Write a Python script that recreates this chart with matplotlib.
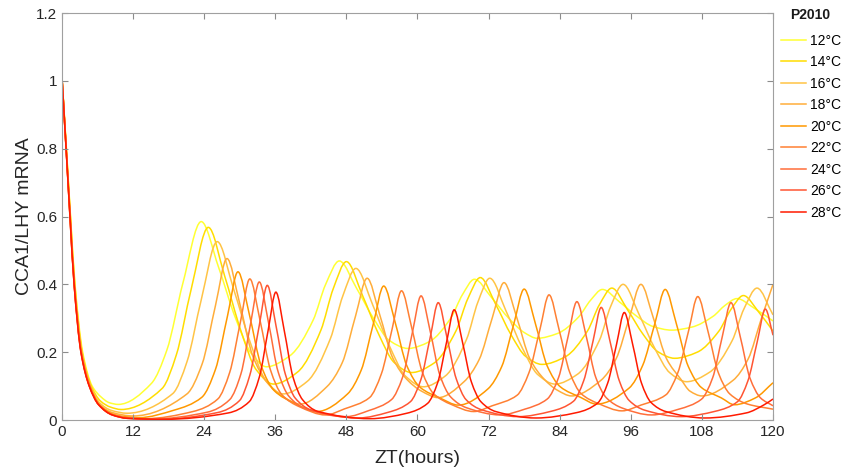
import numpy as np
import matplotlib
matplotlib.use("Agg")
import matplotlib.pyplot as plt
from matplotlib.path import Path
from matplotlib.patches import PathPatch
from matplotlib.lines import Line2D

plt.rcParams['font.family'] = ['Liberation Sans', 'DejaVu Sans']

# values: (ZT hours, CCA1/LHY mRNA)
temps = [12, 14, 16, 18, 20, 22, 24, 26, 28]
colors = ['#ffff33', '#ffdd00', '#ffc445', '#ffad3a', '#ff9900',
          '#ff8033', '#ff6e3a', '#ff5533', '#ff1a00']

c12 = [(0, 1.01), (0.75, 0.80), (1.45, 0.60), (2.2, 0.40), (3.5, 0.20), (5.1, 0.10),
       (6.6, 0.068), (8.0, 0.051), (9.5, 0.046),
       (15.1, 0.108), (17.7, 0.206), (20.4, 0.403), (23.5, 0.585),
       (26.4, 0.452), (29.3, 0.30), (32.0, 0.195), (34.5, 0.157),
       (38.5, 0.19), (42.4, 0.295), (44.5, 0.40), (46.8, 0.469),
       (49.7, 0.389), (52.6, 0.299), (55.3, 0.234), (58.4, 0.211),
       (62.0, 0.231), (65.6, 0.30), (67.6, 0.37), (69.6, 0.415),
       (72.5, 0.361), (75.4, 0.30), (78.1, 0.257), (80.2, 0.241),
       (83.6, 0.255), (87.2, 0.304), (89.2, 0.353), (91.2, 0.385),
       (94.1, 0.348), (97.0, 0.306), (99.7, 0.276), (102.9, 0.265),
       (106.3, 0.274), (109.9, 0.306), (111.9, 0.338), (113.9, 0.358),
       (116.8, 0.33), (120, 0.292)]

c14 = [(0, 1.01), (0.74, 0.80), (1.43, 0.60), (2.17, 0.40), (3.42, 0.20), (4.95, 0.10),
       (6.5, 0.056), (8.2, 0.038), (10, 0.031),
       (16.9, 0.093), (19.3, 0.192), (21.8, 0.385), (24.7, 0.568),
       (27.45, 0.425), (30.2, 0.263), (32.8, 0.148), (35.7, 0.106),
       (39.8, 0.142), (43.7, 0.265), (45.8, 0.388), (48.0, 0.467),
       (50.75, 0.366), (53.5, 0.251), (56.1, 0.169), (59.0, 0.14),
       (62.8, 0.168), (66.5, 0.263), (68.5, 0.358), (70.6, 0.42),
       (73.2, 0.341), (75.8, 0.251), (78.3, 0.187), (81.0, 0.164),
       (84.9, 0.186), (88.7, 0.263), (90.7, 0.34), (92.8, 0.389),
       (95.45, 0.325), (98.1, 0.252), (100.6, 0.201), (103.4, 0.182),
       (107.2, 0.2), (110.9, 0.263), (112.9, 0.326), (115.0, 0.367),
       (117.6, 0.318), (120, 0.262)]

c16 = [(0, 1.01), (0.73, 0.80), (1.41, 0.60), (2.14, 0.40), (3.36, 0.20), (4.85, 0.10),
       (6.4, 0.05), (8.4, 0.028), (11, 0.02),
       (18.7, 0.078), (21.1, 0.172), (23.5, 0.354), (26.2, 0.526),
       (28.95, 0.387), (31.75, 0.23), (34.4, 0.117), (37.3, 0.077),
       (41.4, 0.114), (45.3, 0.24), (47.4, 0.366), (49.6, 0.447),
       (52.45, 0.339), (55.3, 0.217), (58.0, 0.129), (61.0, 0.098),
       (64.7, 0.13), (68.3, 0.239), (70.2, 0.348), (72.2, 0.418),
       (74.95, 0.321), (77.7, 0.212), (80.3, 0.134), (83.2, 0.106),
       (87.0, 0.135), (90.7, 0.235), (92.6, 0.335), (94.7, 0.40),
       (97.4, 0.311), (100.05, 0.211), (102.6, 0.139), (105.4, 0.113),
       (109.3, 0.141), (113.1, 0.234), (115.1, 0.328), (117.3, 0.389),
       (120, 0.31)]

c18 = [(0, 1.01), (0.72, 0.80), (1.4, 0.60), (2.11, 0.40), (3.32, 0.20), (4.78, 0.10),
       (6.3, 0.047), (8.5, 0.022), (12, 0.012),
       (21.1, 0.077), (23.65, 0.165), (25.9, 0.337), (27.85, 0.476),
       (29.95, 0.347), (32.2, 0.189), (34.6, 0.111), (37.2, 0.07), (40.2, 0.047),
       (44.75, 0.099), (47.3, 0.169), (49.55, 0.307), (51.5, 0.418),
       (53.6, 0.312), (55.85, 0.182), (58.25, 0.119), (60.7, 0.085), (63.5, 0.066),
       (67.85, 0.113), (70.4, 0.178), (72.65, 0.303), (74.6, 0.405),
       (76.7, 0.305), (78.95, 0.181), (81.35, 0.121), (83.6, 0.088), (86.0, 0.071),
       (90.95, 0.117), (93.5, 0.18), (95.75, 0.301), (97.7, 0.40),
       (99.8, 0.301), (102.05, 0.18), (104.45, 0.12), (106.0, 0.085), (108.0, 0.071),
       (113.25, 0.117), (115.8, 0.18), (118.05, 0.30), (120, 0.40)]

c20 = [(0, 1.01), (0.71, 0.80), (1.38, 0.60), (2.09, 0.40), (3.28, 0.20), (4.72, 0.10),
       (6.25, 0.046), (8.5, 0.018), (10.5, 0.01), (13, 0.007),
       (18.9, 0.029), (23.6, 0.067), (25.9, 0.149), (27.95, 0.308), (29.7, 0.437),
       (31.6, 0.313), (33.6, 0.161), (35.8, 0.087), (39.2, 0.05), (43.0, 0.025),
       (48.2, 0.077), (50.5, 0.147), (52.55, 0.284), (54.3, 0.395),
       (56.2, 0.29), (58.2, 0.16), (60.4, 0.097), (63.8, 0.065), (66.9, 0.044),
       (71.9, 0.092), (74.2, 0.157), (76.25, 0.283), (78.0, 0.386),
       (79.9, 0.284), (81.9, 0.159), (84.1, 0.098), (87.5, 0.067), (90.2, 0.047),
       (95.7, 0.094), (98.0, 0.161), (100.05, 0.284), (101.8, 0.385),
       (103.7, 0.283), (105.7, 0.158), (107.9, 0.096), (111.3, 0.065), (113.5, 0.045),
       (117.0, 0.065), (120, 0.11)]

c22 = [(0, 1.01), (0.7, 0.80), (1.37, 0.60), (2.07, 0.40), (3.25, 0.20), (4.68, 0.10),
       (6.2, 0.045), (8.5, 0.016), (11, 0.007), (14, 0.004),
       (22.1, 0.025), (26.3, 0.062), (28.3, 0.14), (30.15, 0.292), (31.7, 0.416),
       (33.4, 0.296), (35.2, 0.147), (37.1, 0.075), (40.1, 0.039), (44.5, 0.015),
       (47.7, 0.033), (51.9, 0.066), (53.9, 0.136), (55.75, 0.271), (57.3, 0.381),
       (59.0, 0.274), (60.8, 0.142), (62.7, 0.078), (65.7, 0.046), (69.5, 0.025),
       (72.6, 0.042), (76.8, 0.073), (78.8, 0.139), (80.65, 0.266), (82.2, 0.369),
       (83.9, 0.266), (85.7, 0.14), (87.6, 0.078), (90.6, 0.048), (94.5, 0.027),
       (97.7, 0.044), (101.9, 0.074), (103.9, 0.138), (105.75, 0.263), (107.3, 0.364),
       (109.0, 0.263), (110.8, 0.138), (112.7, 0.077), (115.7, 0.047), (120, 0.032)]

c24 = [(0, 1.01), (0.7, 0.80), (1.36, 0.60), (2.06, 0.40), (3.23, 0.20), (4.64, 0.10),
       (6.2, 0.045), (8.5, 0.015), (11, 0.006), (15, 0.003),
       (24.5, 0.023), (28.3, 0.06), (30.2, 0.136), (31.85, 0.286), (33.3, 0.407),
       (34.85, 0.288), (36.5, 0.141), (38.3, 0.07), (41.0, 0.034), (48.0, 0.01),
       (51.8, 0.028), (55.6, 0.06), (57.5, 0.127), (59.15, 0.259), (60.6, 0.366),
       (62.15, 0.261), (63.8, 0.131), (65.6, 0.068), (68.3, 0.036), (74.0, 0.015),
       (78.1, 0.032), (81.9, 0.062), (83.8, 0.125), (85.45, 0.249), (86.9, 0.349),
       (88.45, 0.249), (90.1, 0.125), (91.9, 0.065), (94.6, 0.035), (99.5, 0.015),
       (104.1, 0.032), (107.9, 0.061), (109.8, 0.124), (111.45, 0.247), (112.9, 0.346),
       (114.45, 0.247), (116.1, 0.124), (117.9, 0.065), (120, 0.042)]

c26 = [(0, 1.01), (0.7, 0.80), (1.35, 0.60), (2.05, 0.40), (3.21, 0.20), (4.62, 0.10),
       (6.2, 0.045), (8.5, 0.015), (11, 0.005), (16, 0.002),
       (26.25, 0.022), (29.95, 0.057), (31.7, 0.132), (33.3, 0.279), (34.65, 0.397),
       (36.1, 0.28), (37.7, 0.135), (39.35, 0.065), (42.0, 0.03), (50.0, 0.006),
       (55.1, 0.023), (58.8, 0.054), (60.55, 0.118), (62.15, 0.244), (63.5, 0.346),
       (64.95, 0.245), (66.55, 0.121), (68.2, 0.06), (70.85, 0.03), (77.0, 0.01),
       (82.6, 0.026), (86.3, 0.055), (88.05, 0.116), (89.65, 0.235), (91.0, 0.332),
       (92.45, 0.235), (94.05, 0.116), (95.7, 0.058), (98.35, 0.029), (104.5, 0.01),
       (110.3, 0.026), (114.0, 0.054), (115.75, 0.115), (117.35, 0.232), (118.7, 0.327),
       (120, 0.25)]

c28 = [(0, 1.01), (0.7, 0.80), (1.35, 0.60), (2.05, 0.40), (3.2, 0.20), (4.6, 0.10),
       (6.2, 0.045), (8.5, 0.015), (11, 0.005), (17, 0.002),
       (28.1, 0.021), (31.6, 0.054), (33.3, 0.126), (34.8, 0.265), (36.1, 0.377),
       (37.5, 0.265), (39.0, 0.126), (40.6, 0.06), (43.1, 0.026), (52.0, 0.004),
       (58.2, 0.02), (61.7, 0.049), (63.4, 0.11), (64.9, 0.229), (66.2, 0.325),
       (67.6, 0.229), (69.1, 0.112), (70.7, 0.054), (73.2, 0.025), (80.0, 0.006),
       (86.9, 0.022), (90.4, 0.05), (92.1, 0.109), (93.6, 0.224), (94.9, 0.317),
       (96.3, 0.224), (97.8, 0.109), (99.4, 0.052), (101.9, 0.025), (108.5, 0.006),
       (115.5, 0.021), (118.5, 0.045), (120, 0.062)]

curves = [c12, c14, c16, c18, c20, c22, c24, c26, c28]

xticks = [0, 12, 24, 36, 48, 60, 72, 84, 96, 108, 120]
yticks = [0, 0.2, 0.4, 0.6, 0.8, 1.0, 1.2]
ytick_labels = ['0', '0.2', '0.4', '0.6', '0.8', '1', '1.2']


def smooth_path(points):
    # monotone cubic through the read points, drawn as bezier segments
    t = np.array([p[0] for p in points], dtype=float)
    y = np.array([p[1] for p in points], dtype=float)
    h = np.diff(t)
    d = np.diff(y) / h
    m = np.zeros_like(y)
    m[0], m[-1] = d[0], d[-1]
    for k in range(1, len(y) - 1):
        if d[k - 1] * d[k] > 0:
            w1 = 2 * h[k] + h[k - 1]
            w2 = h[k] + 2 * h[k - 1]
            m[k] = (w1 + w2) / (w1 / d[k - 1] + w2 / d[k])
    verts = [(t[0], y[0])]
    codes = [Path.MOVETO]
    for k in range(len(h)):
        verts += [(t[k] + h[k] / 3, y[k] + m[k] * h[k] / 3),
                  (t[k + 1] - h[k] / 3, y[k + 1] - m[k + 1] * h[k] / 3),
                  (t[k + 1], y[k + 1])]
        codes += [Path.CURVE4] * 3
    return Path(verts, codes)


fig = plt.figure(figsize=(8.43, 4.73), dpi=100)
ax = fig.add_axes([0.0735, 0.112, 0.8435, 0.8605])

handles = []
for temp, col, pts in zip(temps, colors, curves):
    ax.add_patch(PathPatch(smooth_path(pts), facecolor='none', edgecolor=col,
                           lw=1.1, transform=ax.transData))
    handles.append(Line2D([], [], color=col, lw=1.1, label=f'{temp}\u00b0C'))

ax.set_xlim(0, 120)
ax.set_ylim(0, 1.2)
ax.set_xticks(xticks)
ax.set_yticks(yticks)
ax.set_yticklabels(ytick_labels)
ax.tick_params(direction='in', top=True, right=True, length=4, width=0.8,
               color='#8c8c8c', labelsize=11, labelcolor='#262626')
for s in ax.spines.values():
    s.set_color('#a0a0a0')
    s.set_linewidth(0.8)

ax.set_xlabel('ZT(hours)', fontsize=14, color='#262626', labelpad=8)
ax.set_ylabel('CCA1/LHY mRNA', fontsize=14, color='#262626', labelpad=2)

fig.text(0.961, 0.968, 'P2010', fontsize=10, fontweight='bold',
         ha='center', va='center', color='#1a1a1a')
fig.legend(handles=handles, loc='upper left', bbox_to_anchor=(0.926, 0.929),
           frameon=False, fontsize=10, handlelength=1.8, handletextpad=0.3,
           labelspacing=0.54, borderaxespad=0, borderpad=0)

fig.savefig('out.png', dpi=100)
